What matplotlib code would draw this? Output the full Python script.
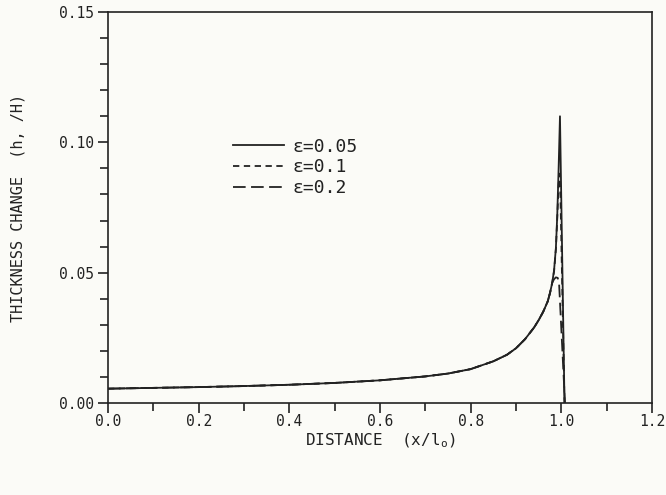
import matplotlib
matplotlib.use("Agg")
import matplotlib.pyplot as plt
from matplotlib.ticker import MultipleLocator

# Data
x_common = [0.0, 0.1, 0.2, 0.3, 0.4, 0.5, 0.6, 0.7, 0.75, 0.8, 0.85, 0.88, 0.9, 0.92,
            0.94, 0.95, 0.96, 0.97, 0.975, 0.98]
h_common = [0.0055, 0.0058, 0.0061, 0.0065, 0.0070, 0.0077, 0.0087, 0.0102, 0.0113,
            0.0130, 0.0160, 0.0185, 0.0210, 0.0245, 0.0290, 0.0318, 0.0350, 0.0390,
            0.0422, 0.0462]

x_e005 = x_common + [0.984, 0.988, 0.991, 0.994, 0.997, 1.007]
h_e005 = h_common + [0.0510, 0.0595, 0.0720, 0.0900, 0.1100, 0.0]

x_e01 = x_common + [0.984, 0.988, 0.991, 0.994, 0.996, 0.998, 1.007]
h_e01 = h_common + [0.0505, 0.0590, 0.0710, 0.0840, 0.0880, 0.0800, 0.0]

x_e02 = x_common + [0.984, 0.988, 0.992, 0.995, 1.008]
h_e02 = h_common + [0.0475, 0.0482, 0.0480, 0.0460, 0.0]

labels = ["\u03b5=0.05", "\u03b5=0.1", "\u03b5=0.2"]

bg = "#fbfbf7"
ink = "#222222"
plt.rcParams['font.family'] = ['DejaVu Sans Mono', 'DejaVu Sans']

fig = plt.figure(figsize=(6.66, 4.95), dpi=100, facecolor=bg)
ax = fig.add_axes([108/666, 1 - 403/495, (652-108)/666, (403-12)/495])
ax.set_facecolor(bg)

l1, = ax.plot(x_e005, h_e005, color=ink, lw=1.3, ls='-')
l2, = ax.plot(x_e01, h_e01, color=ink, lw=1.3, ls=(0, (3.5, 2.5)))
l3, = ax.plot(x_e02, h_e02, color=ink, lw=1.3, ls=(0, (7, 3)))

ax.set_xlim(0, 1.2)
ax.set_ylim(0, 0.15)
ax.xaxis.set_major_locator(MultipleLocator(0.2))
ax.xaxis.set_minor_locator(MultipleLocator(0.1))
ax.yaxis.set_major_locator(MultipleLocator(0.05))
ax.yaxis.set_minor_locator(MultipleLocator(0.01))
ax.xaxis.set_major_formatter(plt.FuncFormatter(lambda v, p: f"{v:.1f}"))
ax.yaxis.set_major_formatter(plt.FuncFormatter(lambda v, p: f"{v:.2f}"))
ax.tick_params(which='major', direction='out', length=7, width=1.2, colors=ink,
               labelsize=10.5, pad=3, top=False, right=False)
ax.tick_params(which='minor', direction='out', length=6, width=1.2, colors=ink,
               top=False, right=False)
ax.tick_params(axis='x', which='major', pad=1)
for s in ax.spines.values():
    s.set_color(ink)
    s.set_linewidth(1.2)

ax.set_xlabel("DISTANCE  (x/l$_{\\mathregular{o}}$)", fontsize=11.5, color=ink, labelpad=2)
ax.set_ylabel("THICKNESS CHANGE  (h, /H)", fontsize=11, color=ink, labelpad=24)

leg = ax.legend([l1, l2, l3], labels, loc='upper left', bbox_to_anchor=(0.2, 0.72),
                frameon=False, fontsize=13, handlelength=2.8, handletextpad=0.5,
                labelspacing=0.15, labelcolor=ink)

fig.savefig("out.png", dpi=100, facecolor=bg)
